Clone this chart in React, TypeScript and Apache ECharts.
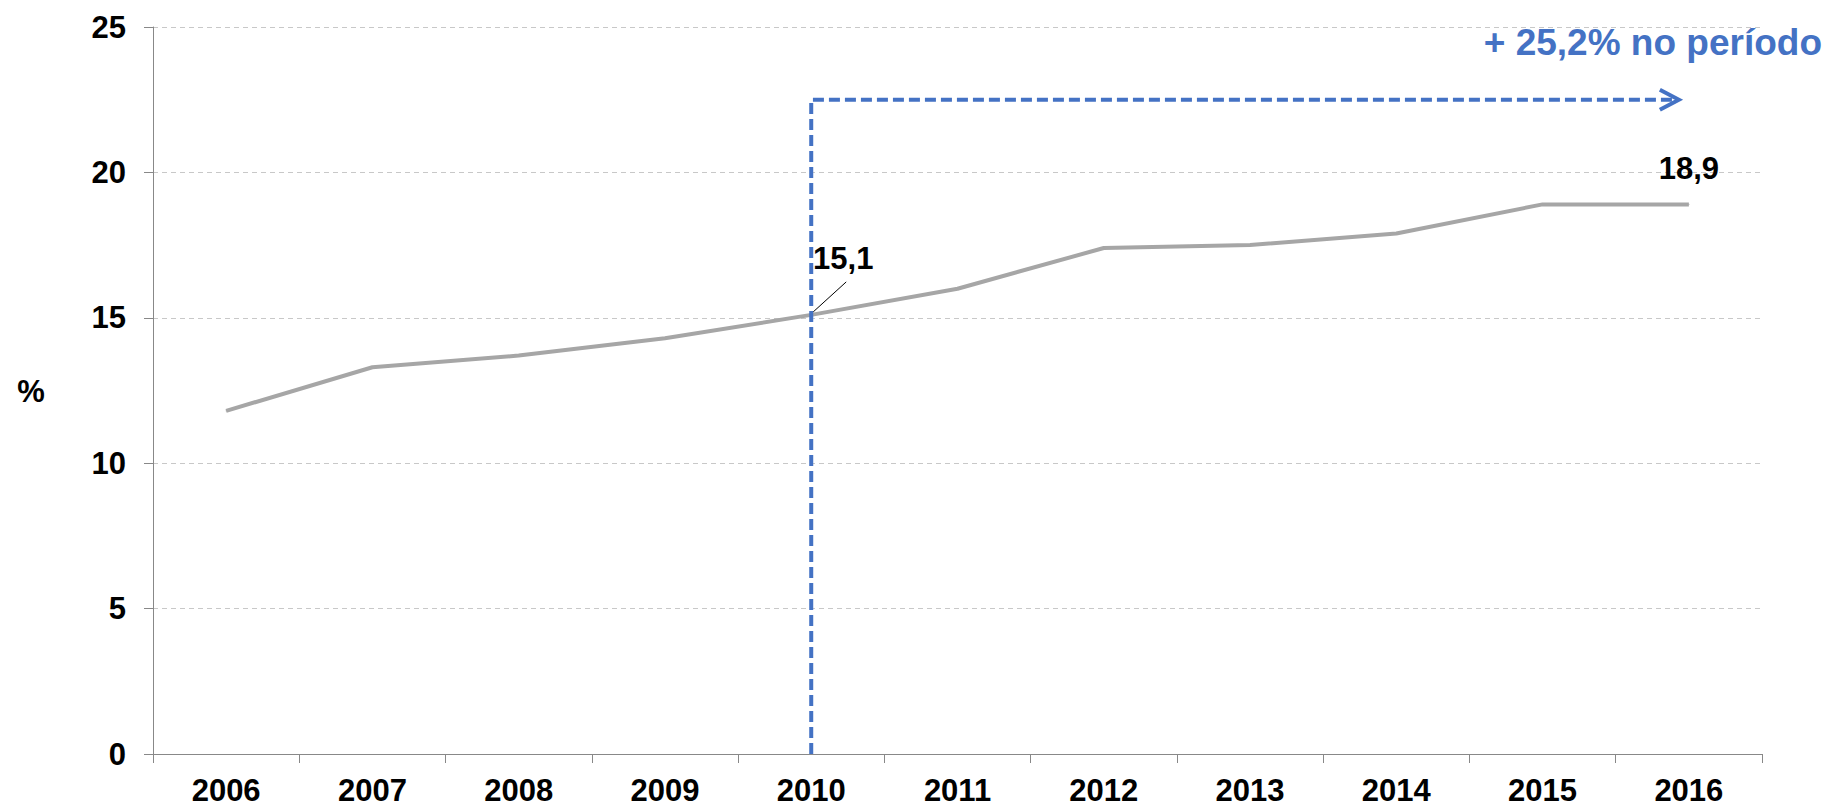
import React, { useEffect, useRef } from "react";
import * as echarts from "echarts";

const years = ["2006", "2007", "2008", "2009", "2010", "2011", "2012", "2013", "2014", "2015", "2016"];
const values = [11.8, 13.3, 13.7, 14.3, 15.1, 16.0, 17.4, 17.5, 17.9, 18.9, 18.9];
const labeledYears = ["2010", "2016"];
const yMin = 0;
const yMax = 25;
const yInterval = 5;
const yAxisName = "%";
const annotationText = "+ 25,2% no período";
const arrowStartYear = "2010";
const arrowEndYear = "2016";
const arrowLevel = 22.5;

const FONT = "'Liberation Sans', Arial, sans-serif";
const BLUE = "#4472C4";

const fmt = (v: number) => v.toFixed(1).replace(".", ",");

export default function App() {
  const ref = useRef<HTMLDivElement>(null);
  useEffect(() => {
    if (!ref.current) return;
    const chart = echarts.init(ref.current, null, { renderer: "svg" });
    const data = values.map((v, i) => {
      const item: any = { value: v };
      if (labeledYears.includes(years[i])) {
        item.label =
          years[i] === "2010"
            ? { show: true, position: "top", distance: 5, offset: [32, -35] }
            : { show: true, position: "top", distance: 20, offset: [0, 0] };
      }
      return item;
    });
    chart.setOption({
      animation: false,
      backgroundColor: "#ffffff",
      grid: { left: 153, right: 72, top: 27, bottom: 53, containLabel: false },
      xAxis: {
        type: "category",
        data: years,
        boundaryGap: true,
        axisLine: { show: true, lineStyle: { color: "#888888", width: 1 } },
        axisTick: { show: true, length: 9, lineStyle: { color: "#888888" } },
        axisLabel: { fontSize: 31, fontWeight: "bold", color: "#000", fontFamily: FONT, margin: 21 },
        splitLine: { show: false },
      },
      yAxis: {
        type: "value",
        min: yMin,
        max: yMax,
        interval: yInterval,
        axisLine: { show: true, lineStyle: { color: "#888888", width: 1 } },
        axisTick: { show: true, length: 9, lineStyle: { color: "#888888" } },
        axisLabel: { fontSize: 31, fontWeight: "bold", color: "#000", fontFamily: FONT, margin: 27 },
        splitLine: { show: true, lineStyle: { color: "#c8c8c8", type: [5, 4], width: 1 } },
      },
      series: [
        {
          type: "line",
          data,
          symbol: "circle",
          symbolSize: 1,
          showSymbol: true,
          itemStyle: { color: "#a6a6a6" },
          lineStyle: { color: "#a6a6a6", width: 4 },
          z: 3,
          label: {
            show: false,
            formatter: (p: any) => fmt(p.value),
            fontSize: 31,
            fontWeight: "bold",
            color: "#000",
            fontFamily: FONT,
          },
        },
      ],
    });

    const pStart = chart.convertToPixel({ xAxisIndex: 0, yAxisIndex: 0 }, [arrowStartYear, arrowLevel]) as number[];
    const pEnd = chart.convertToPixel({ xAxisIndex: 0, yAxisIndex: 0 }, [arrowEndYear, arrowLevel]) as number[];
    const pZero = chart.convertToPixel({ xAxisIndex: 0, yAxisIndex: 0 }, [arrowStartYear, 0]) as number[];
    const i2010 = years.indexOf("2010");
    const p2010 = chart.convertToPixel({ xAxisIndex: 0, yAxisIndex: 0 }, ["2010", values[i2010]]) as number[];
    const xv = pStart[0];
    const tipX = pEnd[0] - 10;
    const yA = pStart[1];

    chart.setOption({
      graphic: [
        {
          type: "polyline",
          z: 10,
          shape: { points: [[xv, pZero[1]], [xv, yA], [tipX - 2, yA]] },
          style: { stroke: BLUE, lineWidth: 4, lineDash: [11, 5], fill: "none" },
        },
        {
          type: "polyline",
          z: 10,
          shape: { points: [[tipX - 19, yA - 10], [tipX, yA], [tipX - 19, yA + 10]] },
          style: { stroke: BLUE, lineWidth: 4, fill: "none" },
        },
        {
          type: "line",
          z: 10,
          shape: { x1: p2010[0] + 2, y1: p2010[1] - 3, x2: p2010[0] + 35, y2: p2010[1] - 33 },
          style: { stroke: "#000", lineWidth: 1 },
        },
        {
          type: "text",
          z: 10,
          x: 1822,
          y: 42,
          style: {
            text: annotationText,
            fill: BLUE,
            font: `bold 37px ${FONT}`,
            align: "right",
            verticalAlign: "middle",
          },
        },
        {
          type: "text",
          z: 10,
          x: 31,
          y: 391,
          style: {
            text: yAxisName,
            fill: "#000",
            font: `bold 31px ${FONT}`,
            align: "center",
            verticalAlign: "middle",
          },
        },
      ],
    });
    return () => chart.dispose();
  }, []);
  return <div ref={ref} style={{ position: "fixed", left: 0, top: 0, width: 1834, height: 807 }} />;
}
